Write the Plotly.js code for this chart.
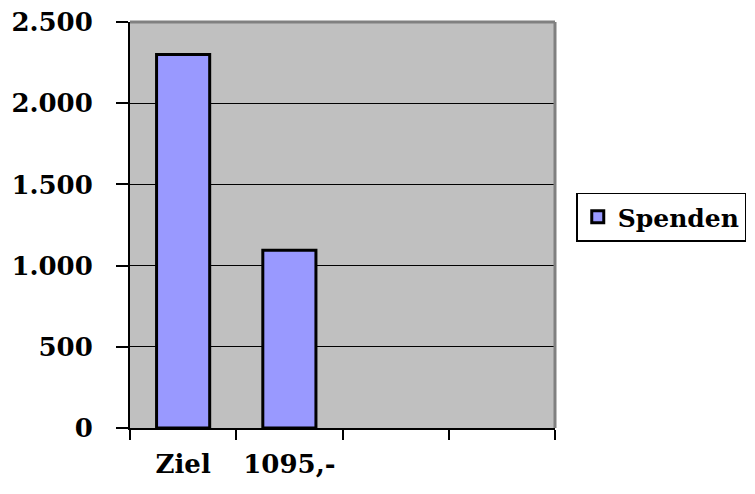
<!DOCTYPE html>
<html><head><meta charset="utf-8">
<script src="https://cdn.plot.ly/plotly-3.0.1.min.js"></script>
<style>body{margin:0;background:#fff}#chart{width:755px;height:494px}</style>
</head><body><div id="chart"></div>
<script>
var categories = ['Ziel', '1095,-', ' ', '  '];
var spenden = [2300, 1095, null, null];
var yTicks = [0, 500, 1000, 1500, 2000, 2500];
var seriesName = 'Spenden';

var fnt = {family: 'DejaVu Serif', size: 26, color: '#000', weight: 'bold'};
var trace = {
  type: 'bar', x: categories, y: spenden, name: seriesName, width: 0.5,
  marker: {color: '#9999FF', line: {color: '#000', width: 3}},
  showlegend: true
};
var layout = {
  width: 755, height: 494,
  margin: {l: 130, r: 200, t: 22, b: 66, autoexpand: false},
  paper_bgcolor: '#fff', plot_bgcolor: '#C0C0C0',
  separators: ',.',
  font: fnt,
  xaxis: {
    type: 'category', categoryorder: 'array', categoryarray: categories,
    range: [-0.5, 3.5], tickson: 'boundaries', ticks: 'outside', ticklen: 10,
    tickwidth: 2, tickcolor: '#000', showline: true, linecolor: '#000', linewidth: 2,
    showgrid: false, zeroline: false, ticklabelstandoff: 12, tickfont: fnt
  },
  yaxis: {
    range: [0, 2500], tickvals: yTicks, tickformat: ',d', ticks: 'outside', ticklen: 12,
    tickwidth: 2, tickcolor: '#000', showline: true, linecolor: '#000', linewidth: 2,
    showgrid: true, gridcolor: '#000', gridwidth: 1, zeroline: false,
    ticklabelstandoff: 18, tickfont: fnt
  },
  shapes: [
    {type: 'line', xref: 'paper', yref: 'paper', x0: 0, x1: 1, y0: 1, y1: 1, line: {color: '#808080', width: 3}},
    {type: 'line', xref: 'paper', yref: 'paper', x0: 1, x1: 1, y0: 0, y1: 1, line: {color: '#808080', width: 3}}
  ],
  showlegend: true,
  legend: {
    x: 1.05, y: 0.58, xanchor: 'left', yanchor: 'top',
    bgcolor: '#fff', bordercolor: '#000', borderwidth: 1.5,
    font: {family: 'DejaVu Serif', size: 25, color: '#000', weight: 'bold'},
    itemwidth: 30
  }
};
Plotly.newPlot('chart', [trace], layout, {displayModeBar: false});
</script></body></html>
